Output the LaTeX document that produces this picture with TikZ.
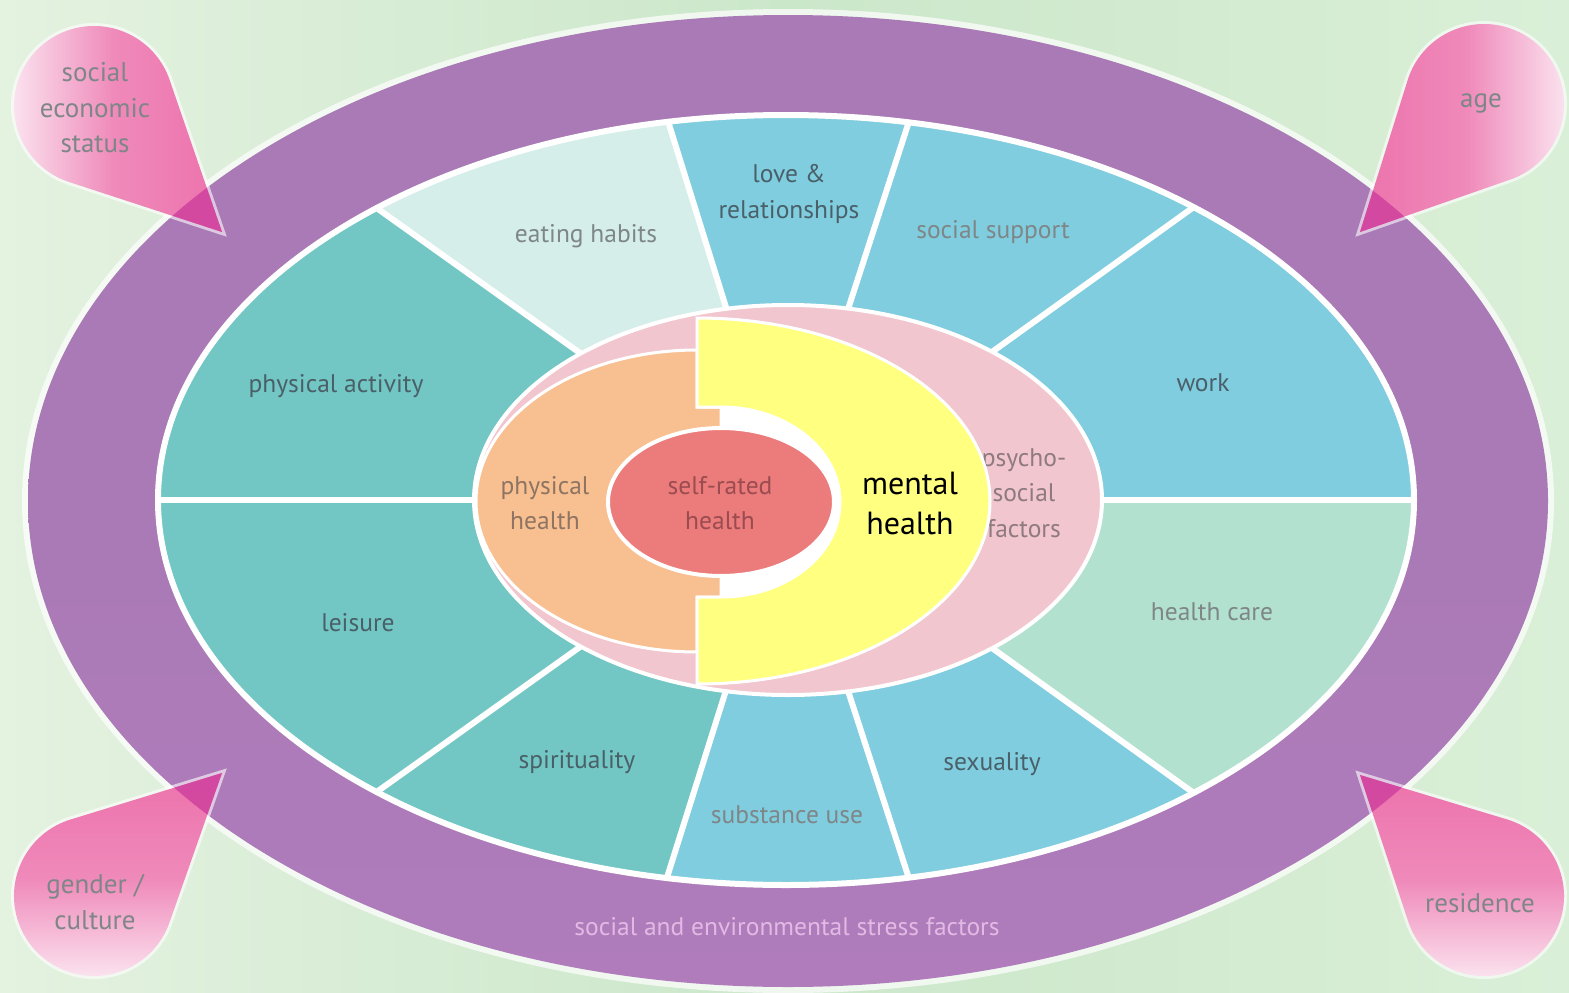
\documentclass[tikz,border=0pt]{standalone}
\usepackage{fontspec}
\setmainfont{PT Sans}
\usetikzlibrary{calc}
\definecolor{bgL}{HTML}{E4F2E0}
\definecolor{bgM}{HTML}{CBE7CA}
\definecolor{bgR}{HTML}{DAEFD7}
\definecolor{ringc}{HTML}{A97AB5}
\definecolor{ringB}{HTML}{B07CBC}
\definecolor{ringtxt}{HTML}{E2B9E4}
\definecolor{segTeal}{HTML}{72C6C3}
\definecolor{segSky}{HTML}{80CDE0}
\definecolor{segPale}{HTML}{D5EEE9}
\definecolor{segMint}{HTML}{B3E1CF}
\definecolor{psyc}{HTML}{F2C6CE}
\definecolor{psyT}{HTML}{8E7A80}
\definecolor{orng}{HTML}{F8BF90}
\definecolor{orngT}{HTML}{8E7462}
\definecolor{yell}{HTML}{FFFF80}
\definecolor{redc}{HTML}{EC7B7B}
\definecolor{redT}{HTML}{9A4C50}
\definecolor{dropP}{HTML}{EC72AC}
\definecolor{dropW}{HTML}{FCEAF3}
\definecolor{dropO}{HTML}{D1449F}
\definecolor{txtD}{HTML}{4A6068}
\definecolor{txtG}{HTML}{7E8687}
\newcommand\setdrop[5]{%
 \pgfmathsetmacro\dpdx{(#3-#1)/100}%
 \pgfmathsetmacro\dpdy{(#2-#4)/100}%
 \pgfmathsetmacro\dpd{100*veclen(\dpdx,\dpdy)}%
 \pgfmathsetmacro\dpphi{atan2(\dpdy,\dpdx)}%
 \pgfmathsetmacro\dpal{acos(#5/\dpd)}%
 \pgfmathsetmacro\dpsa{\dpphi+\dpal}%
 \pgfmathsetmacro\dpea{\dpphi-\dpal+360}%
 \def\dpcx{#1}\def\dpcy{#2}\def\dptx{#3}\def\dpty{#4}\def\dpr{#5}}
\newcommand\droppath{(\dptx,-\dpty) -- ([shift={(\dpsa:\dpr)}]\dpcx,-\dpcy) arc[start angle=\dpsa, end angle=\dpea, radius=\dpr] -- cycle}
\begin{document}
\begin{tikzpicture}[x=1pt,y=1pt,
  lab/.style={font=\fontsize{25.5}{35.5}\selectfont, align=center, inner sep=0pt},
  droplab/.style={font=\fontsize{27}{35.5}\selectfont, align=center, inner sep=0pt},
  bigl/.style={font=\fontsize{32}{40}\selectfont, align=center, inner sep=0pt},
  glow/.style={draw=white, line width=6, opacity=.6}]
\useasboundingbox (0,0) rectangle (1569,-993);
\shade[left color=bgL, right color=bgR, middle color=bgM] (0,0) rectangle (1569,-993);
% outer purple ring
\fill[white, opacity=.7] (788,-501) ellipse [x radius=766, y radius=492];
\shade[top color=ringc, bottom color=ringB, middle color=ringc] (788,-501) ellipse [x radius=760, y radius=486];
% segments
\coordinate (O) at (786,-500);
\begin{scope}
\clip (O) ellipse [x radius=628, y radius=385];
\foreach \a/\b/\c in {0/35.7/segSky, 35.7/72/segSky, 72/107.3/segSky, 107.3/144.5/segPale, 144.5/180/segTeal, 180/215.5/segTeal, 215.5/252.5/segTeal, 252.5/288/segSky, 288/324.3/segSky, 324.3/360/segMint}
  \fill[\c] (O) -- ($(O)+(\a:1000)$) -- ($(O)+(\b:1000)$) -- cycle;
\foreach \a in {0,35.7,72,107.3,144.5,180,215.5,252.5,288,324.3}
  \draw[white, line width=6] (O) -- ($(O)+(\a:1000)$);
\end{scope}
\draw[white, line width=6] (O) ellipse [x radius=628, y radius=385];
% psycho-social
\path[fill=psyc, draw=white, line width=4] (788,-500) ellipse [x radius=314, y radius=195];
\node[lab, text=psyT] (psy) at (1024,-493) {psycho-\\social\\factors};
% gap around self-rated
\fill[white] (721,-502) ellipse [x radius=119, y radius=95];
% physical health
\path[fill=orng, draw=white, line width=3] (697,-350) arc[start angle=90, end angle=270, x radius=221, y radius=151] -- (697,-597) -- (721,-597) -- (721,-407) -- (697,-407) -- cycle;
% mental health
\path[fill=yell, draw=white, line width=3] (697,-318) arc[start angle=90, end angle=-90, x radius=293, y radius=183] -- (697,-597) -- (721,-597) arc[start angle=-90, end angle=90, x radius=119, y radius=95] -- (697,-407) -- cycle;
% self-rated
\path[fill=redc, draw=white, line width=4] (721,-502) ellipse [x radius=113, y radius=74];
% labels
\node[lab, text=txtD] (pa) at (336,-386) {physical activity};
\node[lab, text=txtD] (le) at (358,-623) {leisure};
\node[lab, text=txtG] (eh) at (586,-236) {eating habits};
\node[lab, text=txtD] (lr) at (789,-194) {love \&\\relationships};
\node[lab, text=txtG] (ss) at (993,-232) {social support};
\node[lab, text=txtD] (wk) at (1203,-383) {work};
\node[lab, text=txtG] (hc) at (1212,-612) {health care};
\node[lab, text=txtD] (sx) at (992,-764) {sexuality};
\node[lab, text=txtG] (su) at (787,-815) {substance use};
\node[lab, text=txtD] (sp) at (577,-762) {spirituality};
\node[lab, text=orngT] (ph) at (545,-503) {physical\\health};
\node[lab, text=redT] (sr) at (720,-503) {self-rated\\health};
\node[bigl, text=black] (mh) at (910,-503) {mental\\health};
\node[lab, text=ringtxt] (st) at (787,-927) {social and environmental stress factors};
% drops
\setdrop{94}{106}{222}{232}{80}
\path[glow] \droppath;
\shade[left color=dropW, right color=dropP, middle color=dropP!80!dropW] \droppath;
\begin{scope}\clip \droppath; \fill[dropO, opacity=.9] (788,-501) ellipse [x radius=760, y radius=486];\end{scope}
\setdrop{1484}{104}{1360}{232}{80}
\path[glow] \droppath;
\shade[left color=dropP, right color=dropW, middle color=dropP!80!dropW] \droppath;
\begin{scope}\clip \droppath; \fill[dropO, opacity=.9] (788,-501) ellipse [x radius=760, y radius=486];\end{scope}
\setdrop{94}{896}{222}{773}{80}
\path[glow] \droppath;
\shade[top color=dropP, bottom color=dropW, middle color=dropP!80!dropW] \droppath;
\begin{scope}\clip \droppath; \fill[dropO, opacity=.9] (788,-501) ellipse [x radius=760, y radius=486];\end{scope}
\setdrop{1484}{896}{1360}{775}{80}
\path[glow] \droppath;
\shade[top color=dropP, bottom color=dropW, middle color=dropP!80!dropW] \droppath;
\begin{scope}\clip \droppath; \fill[dropO, opacity=.9] (788,-501) ellipse [x radius=760, y radius=486];\end{scope}
\node[droplab, text=txtG] (ses) at (95,-108) {social\\economic\\status};
\node[droplab, text=txtG] (age) at (1481,-103) {age};
\node[droplab, text=txtG] (gc) at (95,-902) {gender /\\culture};
\node[droplab, text=txtG] (res) at (1480,-903) {residence};
\end{tikzpicture}
\end{document}
